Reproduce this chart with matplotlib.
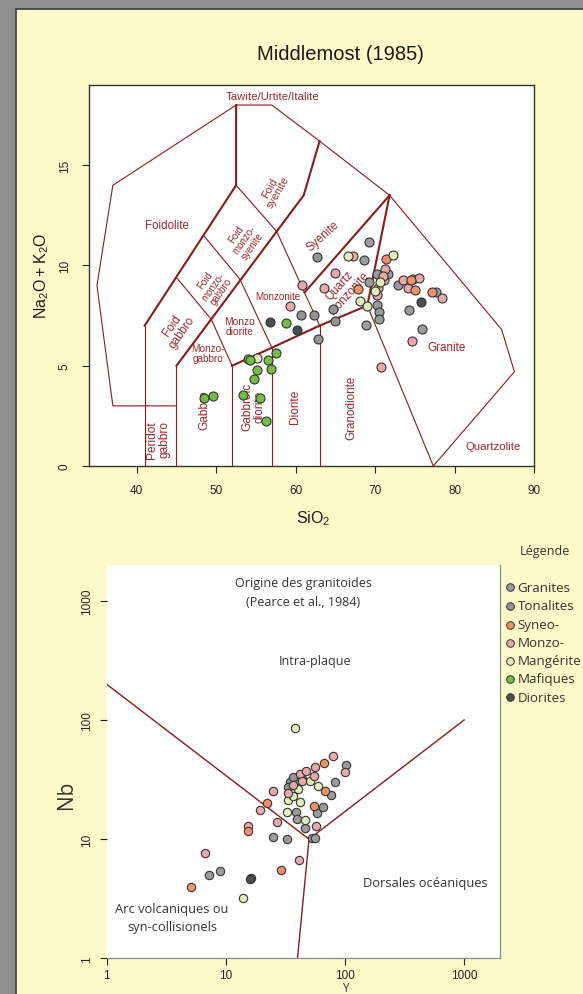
import matplotlib
matplotlib.use('Agg')
import matplotlib.pyplot as plt
from matplotlib.patches import Rectangle

# ---------------- data ----------------
# TAS diagram (SiO2, Na2O+K2O)
tas_granites_sio2 = [69.26, 68.59, 70.18, 71.65, 69.22, 72.91, 77.65, 70.27, 70.52, 70.52, 74.25, 75.93, 68.84]
tas_granites_alk = [11.16, 10.29, 9.58, 9.58, 9.19, 9.03, 8.69, 8.03, 7.67, 7.33, 7.80, 6.83, 7.03]
tas_tonalites_sio2 = [62.72, 64.73, 64.94, 62.85, 60.63, 62.30]
tas_tonalites_alk = [10.41, 7.83, 7.25, 6.33, 7.53, 7.53]
tas_syneo_sio2 = [71.36, 67.88, 74.45, 75.0, 77.1]
tas_syneo_alk = [10.32, 8.83, 9.28, 8.78, 8.66]
tas_monzo_sio2 = [60.75, 67.25, 64.94, 63.56, 71.23, 71.11, 70.39, 70.27, 73.53, 74.71, 75.55, 74.17, 78.36, 74.58, 59.28, 70.73, 71.0]
tas_monzo_alk = [9.03, 10.49, 9.63, 8.86, 9.83, 9.29, 8.86, 8.53, 9.29, 9.33, 9.36, 8.86, 8.36, 6.25, 7.97, 4.92, 9.46]
tas_mang_sio2 = [66.62, 72.28, 70.6, 69.97, 68.09, 68.93, 55.1]
tas_mang_alk = [10.46, 10.52, 9.16, 8.74, 8.24, 7.97, 5.4]
tas_mafic_sio2 = [48.4, 49.6, 54.0, 54.3, 55.1, 54.8, 53.4, 55.5, 56.3, 56.5, 56.9, 57.5, 58.8]
tas_mafic_alk = [3.38, 3.48, 5.34, 5.30, 4.80, 4.34, 3.52, 3.41, 2.26, 5.27, 4.84, 5.64, 7.12]
tas_dior_sio2 = [56.8, 60.1, 75.75]
tas_dior_alk = [7.2, 6.8, 8.16]

# Middlemost field boundaries (SiO2, alkalis)
tas_thin_lines = [
    [(45, 3), (37, 3), (35, 9), (37, 14), (52.5, 18), (57, 18), (63, 16.2), (71.8, 13.5), (85.9, 6.8), (87.5, 4.7), (77.3, 0)],
    [(41, 0), (41, 7)],
    [(45, 0), (45, 5)],
    [(52, 0), (52, 5)],
    [(57, 0), (57, 5.9)],
    [(63, 0), (63, 7)],
    [(45, 9.4), (49.4, 7.3)],
    [(48.4, 11.5), (53, 9.3)],
    [(49.4, 7.3), (52, 5)],
    [(53, 9.3), (57, 5.9)],
    [(52.5, 14), (57.6, 11.7), (61.1, 8.65), (63, 7)],
    [(69, 8), (77.3, 0)],
]
tas_thick_lines = [
    [(41, 7), (52.5, 14), (52.5, 18)],
    [(45, 5), (61, 13.5), (63, 16.2)],
    [(52, 5), (57, 5.9), (63, 7), (69, 8), (71.8, 13.5)],
    [(61.1, 8.65), (71.8, 13.5)],
]
tas_labels = [
    ("Tawite/Urtite/Italite", 57.1, 18.45, 0, 8.2),
    ("Foidolite", 43.85, 12.0, 0, 8.3),
    ("Foid\nsyenite", 57.3, 13.8, 60, 7.8),
    ("Foid\nmonzo-\nsyenite", 53.5, 11.3, 55, 7.0),
    ("Foid\nmonzo-\ngabbro", 49.6, 9.0, 55, 7.0),
    ("Foid\ngabbro", 45.1, 6.85, 55, 8.4),
    ("Monzo-\ngabbro", 49.0, 5.65, 0, 7.2),
    ("Monzo\ndiorite", 52.9, 7.0, 0, 7.4),
    ("Monzonite", 57.7, 8.46, 0, 7.1),
    ("Syenite", 63.4, 11.5, 42, 8.4),
    ("Quartz\nmonzonite", 66.1, 8.85, 48, 8.4),
    ("Peridot\ngabbro", 42.7, 1.35, 90, 8.6),
    ("Gabbro", 48.5, 2.85, 90, 8.6),
    ("Gabbroic\ndiorite", 54.7, 3.0, 90, 8.6),
    ("Diorite", 59.9, 3.0, 90, 8.6),
    ("Granodiorite", 67.0, 2.93, 90, 8.4),
    ("Granite", 79.0, 5.95, 0, 8.4),
    ("Quartzolite", 84.8, 1.0, 0, 8.2),
]

# Pearce diagram (Y, Nb)
pe_granites_y = [7.3, 9.0, 16.3, 24.7, 32.5, 38.7, 39.7, 46.7, 52.5, 56.0, 58.0, 65.0, 77.0, 82.0, 103.0]
pe_granites_nb = [5.0, 5.4, 4.7, 10.4, 10.0, 16.8, 14.8, 12.4, 10.2, 10.2, 16.6, 18.7, 23.4, 30.0, 41.9]
pe_tonalites_y = [34.3, 39.0, 44.0, 33.0, 36.5]
pe_tonalites_nb = [30.0, 31.0, 32.0, 27.5, 33.5]
pe_syneo_y = [5.1, 15.5, 22.0, 29.3, 55.0, 67.0, 68.0]
pe_syneo_nb = [4.0, 11.8, 20.1, 5.5, 19.1, 43.5, 25.5]
pe_monzo_y = [6.7, 15.4, 19.3, 25.0, 27.0, 41.0, 33.4, 42.0, 47.6, 56.0, 43.3, 57.0, 100.0, 80.0, 55.0, 37.0]
pe_monzo_nb = [7.7, 12.9, 17.7, 25.2, 13.8, 6.7, 24.2, 35.2, 37.5, 40.0, 30.9, 12.9, 36.3, 50.0, 34.0, 28.5]
pe_mang_y = [14.0, 32.4, 46.0, 33.6, 42.0, 40.5, 50.8, 60.0, 38.0, 37.0]
pe_mang_nb = [3.2, 16.8, 14.5, 21.4, 20.4, 26.3, 30.9, 28.0, 86.0, 23.0]
pe_dior_y = [16.0]
pe_dior_nb = [4.6]
pe_lines = [
    [(1, 200), (50, 10), (1000, 100)],
    [(50, 10), (40, 1)],
]

legend_names = ["Granites", "Tonalites", "Syneo-", "Monzo-", "Mangérite", "Mafiques", "Diorites"]
colors = {"Granites": "#9c9c9e", "Tonalites": "#949494", "Syneo-": "#f5916a",
          "Monzo-": "#e9a9ab", "Mangérite": "#e3edbc", "Mafiques": "#73bf45",
          "Diorites": "#4a4f52"}

# ---------------- figure ----------------
W, H = 583, 995
fig = plt.figure(figsize=(W / 100, H / 100), dpi=100)
fig.patch.set_facecolor('#8e8e8e')


def fx(x):
    return x / W


def fy(y):
    return 1 - y / H


bg = fig.add_axes([0, 0, 1, 1], zorder=-5)
bg.set_xlim(0, W)
bg.set_ylim(H, 0)
bg.axis('off')
bg.add_patch(Rectangle((16, 10), 600, 1000, facecolor='#fef9c9', edgecolor='#3a3a3a', lw=1.2))

LINE = '#8b1a1a'
LAB = '#9a2a2e'
EDGE = '#333333'

# ---------- TAS ----------
sans = ['Liberation Sans', 'DejaVu Sans']
ax1 = fig.add_axes([fx(89), fy(467), (534.3 - 89) / W, (467 - 86) / H])
ax1.set_facecolor('white')
ax1.set_xlim(34, 90)
ax1.set_ylim(0, 19)
for sp in ax1.spines.values():
    sp.set_color('#333333')
    sp.set_linewidth(1.0)
ax1.set_xticks([40, 50, 60, 70, 80, 90])
ax1.set_yticks([0, 5, 10, 15])
ax1.tick_params(direction='out', length=5, width=0.8, labelsize=8.5, pad=8, colors='#222222')
for t in ax1.get_xticklabels() + ax1.get_yticklabels():
    t.set_family(sans)
for t in ax1.get_yticklabels():
    t.set_rotation(90)
    t.set_va('center')

for seg in tas_thin_lines:
    xs, ys = zip(*seg)
    ax1.plot(xs, ys, color=LINE, lw=0.8, zorder=2)
for seg in tas_thick_lines:
    xs, ys = zip(*seg)
    ax1.plot(xs, ys, color=LINE, lw=1.5, zorder=2)
for txt, x, y, rot, fs in tas_labels:
    ax1.text(x, y, txt, rotation=rot, fontsize=fs, color=LAB, ha='center', va='center',
             family=sans, linespacing=1.0, zorder=2, rotation_mode='anchor')

tas_sets = [
    ("Granites", tas_granites_sio2, tas_granites_alk),
    ("Tonalites", tas_tonalites_sio2, tas_tonalites_alk),
    ("Monzo-", tas_monzo_sio2, tas_monzo_alk),
    ("Syneo-", tas_syneo_sio2, tas_syneo_alk),
    ("Mangérite", tas_mang_sio2, tas_mang_alk),
    ("Mafiques", tas_mafic_sio2, tas_mafic_alk),
    ("Diorites", tas_dior_sio2, tas_dior_alk),
]
for name, xs, ys in tas_sets:
    ax1.scatter(xs, ys, s=42, c=colors[name], edgecolors=EDGE, linewidths=0.8, zorder=4)

# ---------- Pearce ----------
myr = ['Open Sans', 'DejaVu Sans']
ax2 = fig.add_axes([fx(106.5), fy(959.3), (500 - 106.5) / W, (959.3 - 566) / H])
ax2.set_facecolor('white')
ax2.set_xscale('log')
ax2.set_yscale('log')
ax2.set_xlim(1, 2000)
ax2.set_ylim(1, 2000)
ax2.spines['top'].set_visible(False)
ax2.spines['left'].set_visible(False)
for k in ('bottom', 'right'):
    ax2.spines[k].set_color('#8a8a8a')
    ax2.spines[k].set_linewidth(0.9)
ax2.set_xticks([1, 10, 100, 1000])
ax2.set_yticks([1, 10, 100, 1000])
ax2.set_xticklabels(["1", "10", "100", "1000"])
ax2.set_yticklabels(["1", "10", "100", "1000"])
ax2.minorticks_off()
ax2.tick_params(direction='out', length=5, width=0.8, labelsize=8.5, pad=5, colors='#222222')
ax2.tick_params(axis='x', pad=2.5)
for t in ax2.get_xticklabels() + ax2.get_yticklabels():
    t.set_family(sans)
for t in ax2.get_yticklabels():
    t.set_rotation(90)
    t.set_va('center')

for seg in pe_lines:
    xs, ys = zip(*seg)
    ax2.plot(xs, ys, color=LINE, lw=1.0, zorder=2)

pe_sets = [
    ("Granites", pe_granites_y, pe_granites_nb),
    ("Tonalites", pe_tonalites_y, pe_tonalites_nb),
    ("Mangérite", pe_mang_y, pe_mang_nb),
    ("Monzo-", pe_monzo_y, pe_monzo_nb),
    ("Syneo-", pe_syneo_y, pe_syneo_nb),
    ("Diorites", pe_dior_y, pe_dior_nb),
]
for name, xs, ys in pe_sets:
    ax2.scatter(xs, ys, s=36, c=colors[name], edgecolors=EDGE, linewidths=0.8, zorder=4)

# ---------- overlay texts ----------
ov = fig.add_axes([0, 0, 1, 1], zorder=10)
ov.set_xlim(0, W)
ov.set_ylim(H, 0)
ov.axis('off')

ov.text(340, 55, "Middlemost (1985)", fontsize=14.5, ha='center', va='center', family=sans, color='#1a1a1a')
ov.text(313, 519, r"$\mathregular{SiO_2}$", fontsize=11.5, ha='center', va='center', family=sans, color='#1a1a1a')
ov.text(42, 276, r"$\mathregular{Na_2O + K_2O}$", fontsize=11.5, ha='center', va='center', rotation=90,
        family=sans, color='#1a1a1a')

dark = '#333333'
ov.text(303, 583, "Origine des granitoides", fontsize=9, ha='center', va='center', family=myr, color=dark)
ov.text(303, 602, "(Pearce et al., 1984)", fontsize=9, ha='center', va='center', family=myr, color=dark)
ov.text(315, 662, "Intra-plaque", fontsize=9, ha='center', va='center', family=myr, color=dark)
ov.text(425, 883, "Dorsales océaniques", fontsize=9.3, ha='center', va='center', family=myr, color=dark)
ov.text(172, 909, "Arc volcaniques ou", fontsize=9.3, ha='center', va='center', family=myr, color=dark)
ov.text(172, 927, "syn-collisionels", fontsize=9.3, ha='center', va='center', family=myr, color=dark)
ov.text(66, 795, "Nb", fontsize=15, ha='center', va='center', rotation=90, family=myr, color=dark)
ov.text(345, 994.6, "Y", fontsize=8.5, ha='center', va='bottom', family=myr, color=dark)

ov.text(545, 552, "Légende", fontsize=9, ha='center', va='center', family=myr, color=dark)
leg_y = [588, 607, 625.5, 643.5, 661.5, 680, 698]
for name, yy in zip(legend_names, leg_y):
    ov.scatter([510], [yy], s=30, c=colors[name], edgecolors=EDGE, linewidths=0.7, zorder=5)
    ov.text(517.5, yy, name, fontsize=9.6, ha='left', va='center', family=myr, color=dark)

fig.savefig('out.png', dpi=100, facecolor=fig.get_facecolor())
